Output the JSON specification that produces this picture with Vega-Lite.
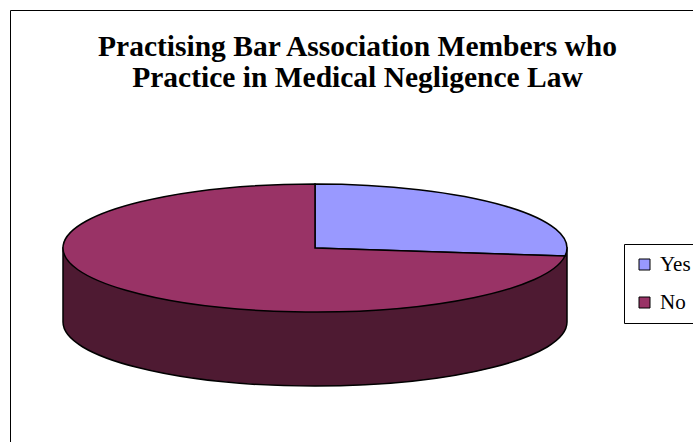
{
  "$schema": "https://vega.github.io/schema/vega-lite/v6.json",
  "autosize": {"type": "none"},
  "padding": {"left": 10, "top": 10, "right": 0, "bottom": 0},
  "width": 690,
  "height": 432,
  "background": "white",
  "view": {"stroke": "black", "strokeWidth": 1, "fill": "white"},
  "title": {
    "text": ["Practising Bar Association Members who", "Practice in Medical Negligence Law"],
    "font": "Liberation Serif",
    "fontSize": 29.5,
    "fontWeight": "bold",
    "color": "black",
    "anchor": "middle",
    "frame": "group",
    "lineHeight": 31,
    "baseline": "top",
    "offset": 0,
    "dy": 83,
    "dx": 2.5
  },
  "data": {"values": [
    {"answer": "Yes", "percent": 27},
    {"answer": "No", "percent": 73}
  ]},
  "resolve": {"legend": {"color": "independent"}},
  "layer": [
    {
      "transform": [{"filter": "datum.answer === 'No'"}],
      "mark": {"type": "point", "filled": true, "opacity": 1, "shape": "M1,0 L1,0.294 A1,0.254 0 0,1 -1,0.294 L-1,0 Z", "size": 254016, "color": "#4e1a32", "fill": "#4e1a32", "stroke": "black", "strokeWidth": 1.5, "xOffset": -40, "yOffset": 22},
      "encoding": {}
    },
    {
      "transform": [{"filter": "datum.answer === 'Yes'"}],
      "mark": {"type": "point", "filled": true, "opacity": 1, "shape": "M0,0 L0,-0.254 A1,0.254 0 0,1 0.992,0.0318 Z", "size": 254016, "stroke": "black", "strokeWidth": 1.5, "xOffset": -40, "yOffset": 22},
      "encoding": {
        "color": {
          "field": "answer", "type": "nominal",
          "scale": {"domain": ["Yes", "No"], "range": ["#9999FF", "#993366"]},
          "legend": {
            "orient": "none", "legendX": 614, "legendY": 234, "title": null,
            "symbolType": "square", "symbolSize": 121, "symbolStrokeColor": "black", "symbolStrokeWidth": 1, "symbolOpacity": 1,
            "labelFont": "Liberation Serif", "labelFontSize": 21, "labelColor": "black", "labelOffset": 5,
            "padding": 10, "rowPadding": 16, "strokeColor": "black", "fillColor": "white",
            "values": ["Yes", "No"],
            "encoding": {
              "symbols": {"update": {"shape": {"value": "square"}, "size": {"value": 121}, "stroke": {"value": "black"}, "strokeWidth": {"value": 1}, "opacity": {"value": 1}}},
              "labels": {"update": {"font": {"value": "Liberation Serif"}, "fontSize": {"value": 21}, "fill": {"value": "black"}}}
            }
          }
        },
        "tooltip": [{"field": "answer", "type": "nominal"}, {"field": "percent", "type": "quantitative"}]
      }
    },
    {
      "transform": [{"filter": "datum.answer === 'No'"}],
      "mark": {"type": "point", "filled": true, "opacity": 1, "shape": "M0,0 L0.992,0.0318 A1,0.254 0 1,1 0,-0.254 Z", "size": 254016, "stroke": "black", "strokeWidth": 1.5, "xOffset": -40, "yOffset": 22},
      "encoding": {
        "color": {"field": "answer", "type": "nominal", "scale": {"domain": ["Yes", "No"], "range": ["#9999FF", "#993366"]}, "legend": null},
        "tooltip": [{"field": "answer", "type": "nominal"}, {"field": "percent", "type": "quantitative"}]
      }
    }
  ]
}
